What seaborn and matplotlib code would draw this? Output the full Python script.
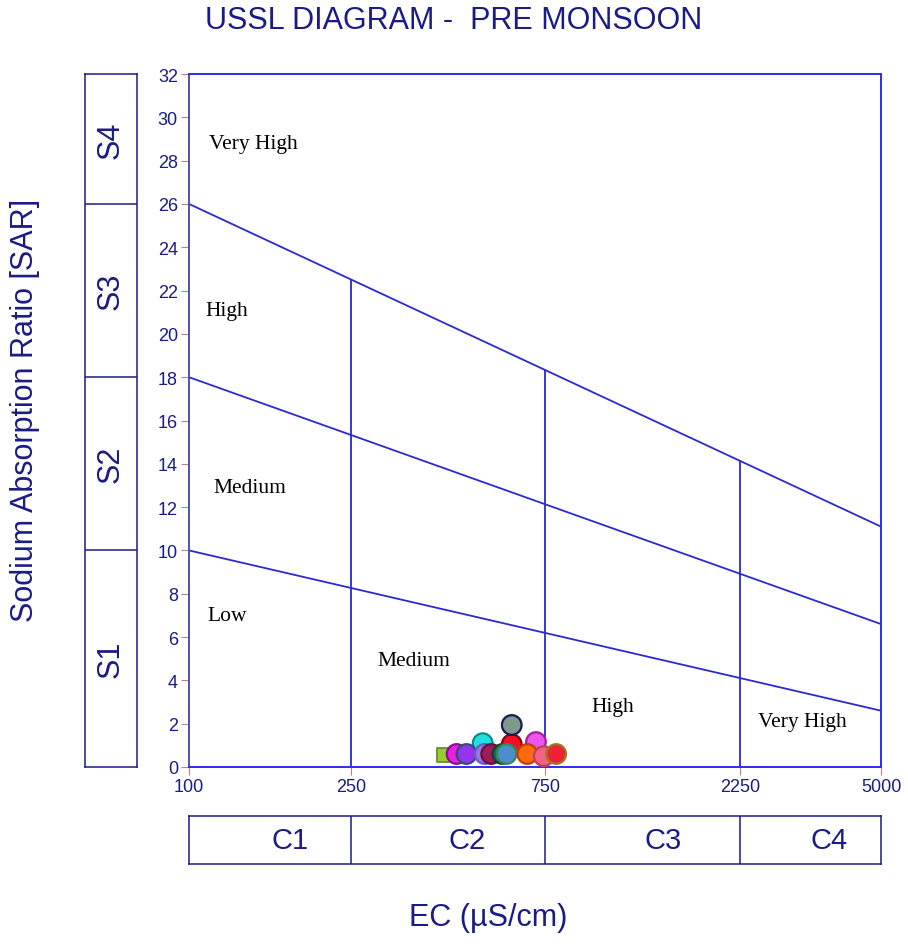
import numpy as np
import pandas as pd
import matplotlib
matplotlib.use("Agg")
import matplotlib.pyplot as plt
import seaborn as sns
from matplotlib.ticker import FixedLocator, NullLocator

sns.set_style("white")
plt.rcParams['font.family'] = ['Liberation Sans', 'DejaVu Sans']

# =========================
# data
# =========================
# boundary lines of the USSL diagram (SAR at EC = 100 and EC = 5000)
ec_ends = [100, 5000]
sar_low_med = [10, 2.6]
sar_med_high = [18, 6.6]
sar_high_vhigh = [26, 11.1]
ec_class_edges = [250, 750, 2250]
s_class_edges = [10, 18, 26]

x_ticks = [100, 250, 750, 2250, 5000]
y_ticks = list(range(0, 33, 2))

# samples (pre monsoon)
sample_ec = [526, 620, 711, 620, 454, 480, 532, 552, 588, 602, 677, 743, 797]
sample_sar = [1.1, 1.05, 1.15, 1.94, 0.6, 0.6, 0.6, 0.6, 0.6, 0.6, 0.6, 0.5, 0.6]
sample_face = ["#22dede", "#f0102a", "#ee55ee", "#7f9a88", "#e81ee8", "#9433f0",
               "#9a78e0", "#9c1c5c", "#24604e", "#4a8fcc", "#ff6a10", "#f2627e",
               "#ee2235"]
sample_edge = ["#108a8a", "#8b0010", "#a020a0", "#1a1a5a", "#8a108a", "#2f5070",
               "#6a5acd", "#6a0f3a", "#104030", "#2e8b57", "#c04000", "#c04060",
               "#9a7a20"]
square_ec = [422]
square_sar = [0.55]

region_text = ["Very High", "High", "Medium", "Low", "Medium", "High", "Very High"]
region_ec = [112, 110, 115, 111, 290, 975, 2500]
region_sar = [28.8, 21.1, 12.9, 7.0, 4.9, 2.8, 2.1]

s_labels = ["S1", "S2", "S3", "S4"]
s_label_pos = [5, 14, 22, 29]
c_labels = ["C1", "C2", "C3", "C4"]
c_label_pos = [177, 483, 1458, 3727]

navy = "#1b1b86"
line_blue = "#2a2ad0"
tick_red = "#c08080"

# =========================
# figure
# =========================
fig = plt.figure(figsize=(9.08, 9.45), dpi=100)
ax = fig.add_axes([189 / 908, 1 - 768 / 945, 692 / 908, 693 / 945])
ax_s = fig.add_axes([85 / 908, 1 - 768 / 945, 52 / 908, 693 / 945])
ax_c = fig.add_axes([189 / 908, 1 - 865 / 945, 692 / 908, 48 / 945])

# boundary lines
for sar_line in [sar_low_med, sar_med_high, sar_high_vhigh]:
    sns.lineplot(x=ec_ends, y=sar_line, ax=ax, color=line_blue, lw=1.3)

# vertical class lines up to the top boundary
log_ends = np.log10(ec_ends)
for ec in ec_class_edges:
    top = np.interp(np.log10(ec), log_ends, sar_high_vhigh)
    ax.plot([ec, ec], [0, top], color=line_blue, lw=1.3)

# samples
df = pd.DataFrame({"ec": sample_ec, "sar": sample_sar,
                   "id": [f"P{i+1}" for i in range(len(sample_ec))]})
sns.scatterplot(data=pd.DataFrame({"ec": square_ec, "sar": square_sar}),
                x="ec", y="sar", ax=ax, marker="s", s=105,
                color="#9acd32", edgecolor="#6b8e23", linewidth=1.3,
                zorder=5, clip_on=False)
sns.scatterplot(data=df, x="ec", y="sar", hue="id",
                palette=dict(zip(df["id"], sample_face)), ax=ax,
                s=200, edgecolor=sample_edge, linewidth=1.6,
                legend=False, zorder=6, clip_on=False)

for txt, ex, ey in zip(region_text, region_ec, region_sar):
    ax.text(ex, ey, txt, fontsize=15.5, family="Liberation Serif",
            color="black", ha="left", va="center")

ax.set_xscale("log")
ax.set_xlim(100, 5000)
ax.set_ylim(0, 32)
ax.xaxis.set_major_locator(FixedLocator(x_ticks))
ax.xaxis.set_minor_locator(NullLocator())
ax.set_xticklabels([str(t) for t in x_ticks])
ax.set_yticks(y_ticks)
ax.set_yticklabels([str(t) for t in y_ticks])
ax.tick_params(axis="both", direction="out", length=6, width=0.8,
               color=tick_red, labelcolor=navy, labelsize=13, pad=2,
               bottom=True, left=True)
ax.set_xlabel("")
ax.set_ylabel("")
for name, spine in ax.spines.items():
    spine.set_color("#2c2cf0")
    spine.set_linewidth(1.4)
ax.spines["left"].set_color("#5050b0")

# S class box
ax_s.set_xlim(0, 1)
ax_s.set_ylim(0, 32)
for s in s_class_edges:
    ax_s.axhline(s, color=navy, lw=1.1)
for lab, pos in zip(s_labels, s_label_pos):
    ax_s.text(0.5, pos, lab, rotation=90, ha="center", va="center",
              fontsize=22, color=navy)
ax_s.set_xticks([])
ax_s.set_yticks([])
for spine in ax_s.spines.values():
    spine.set_color(navy)
    spine.set_linewidth(1.1)

# C class box
ax_c.set_xscale("log")
ax_c.set_xlim(100, 5000)
ax_c.set_ylim(0, 1)
for ec in ec_class_edges:
    ax_c.axvline(ec, color=navy, lw=1.1)
for lab, pos in zip(c_labels, c_label_pos):
    ax_c.text(pos, 0.5, lab, ha="center", va="center", fontsize=21, color=navy)
ax_c.xaxis.set_major_locator(NullLocator())
ax_c.xaxis.set_minor_locator(NullLocator())
ax_c.set_yticks([])
for spine in ax_c.spines.values():
    spine.set_color(navy)
    spine.set_linewidth(1.1)

fig.text(0.5, 1 - 21 / 945, "USSL DIAGRAM -  PRE MONSOON", ha="center",
         va="center", fontsize=22, color=navy)
fig.text(25 / 908, 1 - 410 / 945, "Sodium Absorption Ratio [SAR]", rotation=90,
         ha="center", va="center", fontsize=22, color=navy)
fig.text(488 / 908, 1 - 918 / 945, "EC (µS/cm)", ha="center", va="center",
         fontsize=22, color=navy)

plt.savefig("out.png", dpi=100)
